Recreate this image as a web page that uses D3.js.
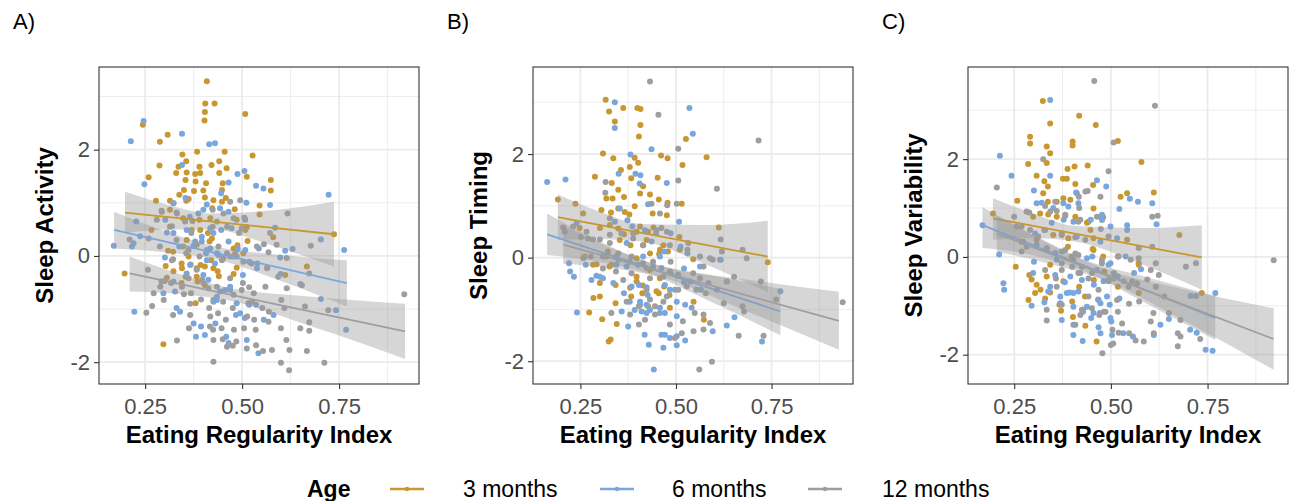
<!DOCTYPE html>
<html>
<head>
<meta charset="utf-8">
<script src="https://cdn.jsdelivr.net/npm/d3@7"></script>
<style>
  body { margin: 0; background: #fff; }
  text { font-family: "Liberation Sans", Arial, sans-serif; }
</style>
</head>
<body>
<div id="chart"></div>
<script>
// age groups shown in the legend
const ageGroups = ['3 months', '6 months', '12 months'];

// axis ticks
const xTicks = [0.25, 0.5, 0.75];
const xMinorTicks = [0.125, 0.375, 0.625, 0.875];
const yTicks = [-2, 0, 2];
const yMinorTicks = [-3, -1, 1, 3];

// visible axis ranges
const activityXRange = [0.131, 0.956];
const activityYRange = [-2.41, 3.556];
const timingXRange = [0.126, 0.963];
const timingYRange = [-2.44, 3.68];
const variabilityXRange = [0.1305, 0.958];
const variabilityYRange = [-2.6, 3.885];

// ---- A) Sleep Activity: [eating regularity index, score]
const activity3 = [[.409,3.29],[.405,2.87],[.429,2.87],[.404,2.71],[.403,2.55],[.508,2.67],[.244,2.47],[.308,2.28],[.288,2.15],[.346,1.91],[.384,1.96],[.455,1.96],[.527,1.89],[.287,1.70],[.390,1.68],[.336,1.68],[.421,1.71],[.441,1.78],[.356,1.78],[.259,1.48],[.330,1.56],[.357,1.57],[.379,1.54],[.392,1.56],[.441,1.56],[.460,1.65],[.512,1.49],[.574,1.43],[.380,1.40],[.407,1.37],[.450,1.37],[.354,1.43],[.350,1.24],[.376,1.22],[.400,1.23],[.448,1.24],[.574,1.23],[.278,1.04],[.314,1.04],[.338,1.15],[.356,1.04],[.404,1.10],[.426,1.05],[.448,1.02],[.458,1.09],[.545,.95],[.323,.99],[.362,1.07],[.423,.90],[.481,.88],[.293,.83],[.545,.78],[.348,.71],[.390,.68],[.418,.71],[.486,.68],[.512,.54],[.508,.49],[.580,.35],[.514,.28],[.266,.49],[.309,.10],[.322,.08],[.357,.30],[.383,.21],[.416,.27],[.392,.49],[.412,.43],[.344,-.14],[.367,-.16],[.393,-.17],[.404,-.20],[.426,-.23],[.420,-.08],[.437,-.29],[.440,-.38],[.303,-.19],[.323,-.29],[.383,-.23],[.667,-.20],[.197,-.33],[.385,-.48],[.404,-.55],[.478,-.34],[.486,-.22],[.306,-.41],[.426,-.83],[.344,-.51],[.380,-.89],[.516,-.89],[.611,-.36],[.297,-1.66],[.362,-.01],[.348,.18],[.314,.55],[.503,.05],[.737,.41],[.488,.20],
  [.314,.87],[.370,.49],[.422,.33],[.478,.14],[.345,-.23],[.383,-.39]];
const activity6 = [[.213,2.16],[.246,2.54],[.345,2.30],[.415,2.10],[.430,2.12],[.248,1.35],[.345,1.71],[.488,1.54],[.506,1.60],[.465,1.38],[.536,1.32],[.555,1.27],[.446,1.18],[.511,1.00],[.572,.96],[.723,1.15],[.409,.97],[.400,.87],[.365,.74],[.331,.82],[.323,.99],[.354,1.09],[.227,.65],[.169,.19],[.216,.18],[.237,.37],[.306,.44],[.357,.49],[.396,.36],[.396,.27],[.426,.43],[.446,.49],[.473,.52],[.508,.68],[.508,.11],[.489,.13],[.465,.27],[.543,.14],[.585,.53],[.611,.10],[.598,-.03],[.630,.13],[.763,.11],[.703,.31],[.301,-.03],[.323,.43],[.338,.18],[.375,.19],[.407,.05],[.418,.14],[.439,.02],[.478,-.01],[.502,-.36],[.518,-.11],[.539,-.14],[.565,-.22],[.599,-.34],[.650,-.53],[.357,-.33],[.400,-.36],[.413,-.45],[.435,-.83],[.426,-.86],[.443,-.67],[.327,-.67],[.297,-.70],[.331,-.98],[.340,-1.05],[.222,-1.05],[.469,-.64],[.486,-.89],[.495,-1.08],[.518,-.92],[.536,-.92],[.581,-1.11],[.703,-.81],[.742,-1.02],[.768,-1.39],[.375,-1.27],[.394,-1.33],[.381,-1.52],[.404,-1.49],[.431,-1.27],[.459,-1.52],[.465,-1.64],[.507,-1.17],[.512,-1.58],[.542,-1.83],[.556,-1.20],[.484,-1.11],[.435,.05],
  [.387,.80],[.443,.90],[.465,.83],[.302,.68],[.418,.52],[.220,.24],[.379,.27],[.409,.11],[.366,-.17],[.409,-.08],[.430,-.14],[.538,-.23],[.323,-.48],[.435,-.77],[.456,-.64],[.469,-.58]];
const activity12 = [[.617,.80],[.495,1.05],[.424,.87],[.469,1.02],[.506,.72],[.210,.31],[.280,.68],[.292,.85],[.319,.56],[.331,.30],[.372,.66],[.424,.55],[.452,.80],[.478,.71],[.492,.43],[.369,.43],[.288,.18],[.356,.05],[.322,-.06],[.390,-.01],[.452,-.04],[.482,.04],[.524,-.14],[.556,.22],[.568,.07],[.589,.21],[.615,-.04],[.677,.19],[.673,-.33],[.257,-.26],[.292,-.48],[.317,-.51],[.354,-.39],[.345,-.58],[.368,-.70],[.397,-.45],[.413,-.61],[.435,-.58],[.469,-.42],[.502,-.51],[.518,-.59],[.530,-.70],[.560,-.58],[.615,-.61],[.654,-.55],[.593,-.39],[.272,-.70],[.298,-.83],[.350,-.72],[.366,-.90],[.394,-.82],[.415,-.98],[.451,-.86],[.476,-.98],[.526,-.86],[.552,-.98],[.601,-.83],[.609,-.98],[.662,-.95],[.268,-.94],[.253,-1.07],[.322,-1.11],[.366,-1.11],[.418,-1.14],[.438,-1.08],[.458,-1.20],[.513,-1.14],[.531,-1.20],[.569,-1.05],[.722,-1.02],[.918,-.72],[.363,-1.36],[.417,-1.33],[.425,-1.39],[.447,-1.36],[.479,-1.39],[.505,-1.36],[.535,-1.39],[.568,-1.24],[.600,-1.36],[.673,-1.25],[.673,-1.41],[.650,-1.36],[.332,-1.59],[.426,-1.58],[.450,-1.57],[.461,-1.71],[.476,-1.69],[.485,-1.61],[.512,-1.74],[.536,-1.68],[.554,-1.79],[.577,-1.77],[.614,-1.58],[.622,-1.77],[.667,-1.79],[.426,-1.99],[.600,-2.01],[.621,-2.15],[.712,-2.01],[.300,-.47],[.289,-.58],
  [.332,.80],[.353,.65],[.435,.65],[.461,.55],[.499,.52],[.572,.43],[.259,.33],[.362,.11],[.439,.18],[.461,.05],[.538,.18],[.319,-.08],[.383,-.26],[.448,-.08],[.469,-.01],[.486,-.01],[.503,-.11],[.564,-.23],[.362,-.42],[.400,-.51],[.478,-.73],[.499,-.64]];

// fitted lines [[x0,y0],[x1,y1]] and confidence bands [x, lower, upper]
const activityLine3 = [[.198,.816],[.737,.408]];
const activityBand3 = [[.198,.43,1.21],[.31,.50,.96],[.42,.50,.80],[.58,.19,.86],[.737,-.20,1.02]];
const activityLine6 = [[.170,.49],[.770,-.51]];
const activityBand6 = [[.170,.14,.83],[.30,.07,.47],[.43,-.06,.18],[.60,-.47,.02],[.770,-.95,-.08]];
const activityLine12 = [[.210,-.33],[.920,-1.42]];
const activityBand12 = [[.210,-.67,-.01],[.33,-.71,-.32],[.46,-.83,-.59],[.68,-1.33,-.77],[.920,-1.94,-.90]];

// ---- B) Sleep Timing
const timing3 = [[.316,3.05],[.325,2.82],[.362,2.89],[.340,2.63],[.399,2.89],[.407,2.87],[.407,2.56],[.403,2.34],[.526,2.29],[.309,2.01],[.336,1.92],[.392,1.93],[.461,1.97],[.478,1.92],[.580,1.94],[.517,1.79],[.379,1.75],[.401,1.83],[.288,1.56],[.356,1.69],[.383,1.53],[.414,1.38],[.452,1.54],[.332,1.44],[.349,1.31],[.334,1.14],[.318,1.14],[.364,1.17],[.392,.99],[.406,1.24],[.432,1.22],[.455,1.12],[.478,1.06],[.515,1.04],[.191,1.12],[.237,1.04],[.257,.85],[.305,.92],[.330,.87],[.349,.95],[.378,.83],[.439,.85],[.476,.82],[.441,.58],[.397,.50],[.349,.56],[.327,.63],[.364,.45],[.423,.34],[.467,.24],[.509,.40],[.612,.58],[.381,.24],[.322,.12],[.344,.02],[.292,-.13],[.397,-.01],[.432,.08],[.456,.07],[.479,.12],[.545,-.03],[.740,-.09],[.326,-.17],[.397,-.37],[.458,-.40],[.432,-.24],[.301,-.49],[.342,-.53],[.380,-.58],[.413,-.54],[.469,-.56],[.483,-.72],[.383,-.75],[.301,-.75],[.284,-.78],[.342,-.88],[.412,-.69],[.455,-.69],[.546,-.85],[.273,-1.06],[.307,-1.19],[.345,-1.28],[.573,-1.20],[.324,-1.62],[.329,-1.58],[.484,-.97],[.427,-.94],
  [.366,.88],[.301,.57],[.248,.57],[.406,.60],[.427,.50],[.353,.34],[.414,.24],[.458,.15],[.510,.15],[.261,.02],[.283,-.14],[.331,-.14],[.440,-.17],[.397,-.46],[.449,-.65]];
const timing6 = [[.163,1.46],[.211,1.51],[.340,3.00],[.340,2.50],[.535,2.89],[.544,2.39],[.436,2.09],[.381,1.99],[.350,1.62],[.394,1.62],[.407,1.59],[.476,1.44],[.405,1.43],[.427,1.03],[.508,.69],[.486,.47],[.386,.60],[.373,.72],[.419,.53],[.448,.47],[.470,.12],[.458,.02],[.512,.21],[.530,.08],[.240,.66],[.220,-.11],[.223,-.27],[.233,-.37],[.264,-.14],[.344,-.14],[.292,-.35],[.309,-.40],[.371,-.17],[.414,.02],[.440,-.17],[.486,-.30],[.521,-.21],[.563,-.17],[.617,-.04],[.336,-.49],[.364,-.69],[.403,-.53],[.423,-.57],[.471,-.53],[.484,-.62],[.521,-.48],[.565,-.62],[.379,-.85],[.392,-1.01],[.406,-.91],[.423,-1.07],[.432,-1.01],[.458,-.97],[.471,-1.07],[.502,-.85],[.502,-1.13],[.541,-.97],[.241,-1.06],[.358,-1.04],[.375,-1.33],[.418,-1.49],[.429,-1.68],[.462,-1.49],[.471,-1.49],[.467,-1.74],[.502,-1.69],[.524,-1.60],[.502,-1.52],[.596,-1.42],[.633,-1.31],[.653,-1.15],[.725,-1.62],[.773,-.65],[.442,-2.16],[.484,-1.55],[.426,-.72],[.524,-.91],
  [.353,.95],[.340,.69],[.371,.28],[.436,.31],[.615,-.04],[.349,-.04],[.401,-.14],[.462,-.20],[.506,-.33],[.537,-.46],[.279,-.43],[.301,-.37],[.384,-.56],[.497,-.62],[.406,-.85],[.423,-.91],[.458,-1.07],[.410,-1.04]];
const timing12 = [[.432,3.40],[.454,2.76],[.716,2.26],[.506,2.10],[.506,1.49],[.607,1.33],[.316,1.46],[.315,1.25],[.436,1.04],[.458,.85],[.477,1.01],[.502,1.04],[.205,.58],[.209,.50],[.251,.40],[.266,.50],[.283,.35],[.301,.35],[.327,.28],[.357,.47],[.388,.47],[.414,.24],[.449,.53],[.476,.50],[.530,.15],[.617,.35],[.674,.15],[.685,-.01],[.258,-.01],[.277,.02],[.318,.02],[.349,.08],[.384,.02],[.414,-.11],[.440,-.08],[.486,-.08],[.545,-.30],[.572,-.17],[.596,-.04],[.652,-.37],[.309,-.21],[.343,-.27],[.384,-.30],[.432,-.40],[.467,-.37],[.505,-.35],[.528,-.56],[.553,-.62],[.578,-.69],[.607,-.62],[.625,-.88],[.674,-.94],[.678,-1.04],[.722,-.46],[.762,-.81],[.936,-.86],[.371,-.85],[.403,-.94],[.432,-.81],[.467,-.85],[.506,-.62],[.380,-1.10],[.419,-1.20],[.445,-1.10],[.484,-1.29],[.518,-1.23],[.549,-1.07],[.572,-1.10],[.546,-1.42],[.572,-1.39],[.589,-1.26],[.664,-1.51],[.729,-1.51],[.497,-1.55],[.515,-1.46],[.594,-2.01],[.561,-2.16],[.403,-1.29],[.331,-1.07],
  [.327,.76],[.270,.37],[.231,.60],[.462,.57],[.327,.44],[.388,.37],[.484,.24],[.532,.28],[.563,.02],[.589,-.01],[.620,.12],[.309,.02],[.379,-.08],[.423,-.20],[.484,-.27],[.563,-.40],[.585,-.49],[.633,-.46],[.362,-.43],[.423,-.62],[.476,-.75],[.445,-.94]];

const timingLine3 = [[.191,.78],[.740,.02]];
const timingBand3 = [[.191,.34,1.22],[.30,.36,.89],[.41,.31,.65],[.58,-.14,.63],[.740,-.67,.71]];
const timingLine6 = [[.163,.45],[.773,-1.04]];
const timingBand6 = [[.163,.05,.85],[.29,-.07,.35],[.42,-.29,-.07],[.60,-.88,-.35],[.773,-1.50,-.60]];
const timingLine12 = [[.205,.25],[.926,-1.22]];
const timingBand12 = [[.205,-.12,.62],[.33,-.20,.19],[.46,-.38,-.16],[.68,-1.02,-.42],[.926,-1.78,-.66]];

// ---- C) Sleep Variability
const variability3 = [[.324,3.19],[.343,2.73],[.418,2.89],[.461,2.70],[.518,2.37],[.291,2.46],[.291,2.32],[.334,2.26],[.343,2.12],[.401,2.36],[.401,2.28],[.286,1.90],[.334,1.92],[.388,1.80],[.406,1.85],[.440,1.87],[.579,1.94],[.308,1.66],[.328,1.55],[.337,1.44],[.376,1.60],[.386,1.60],[.408,1.49],[.454,1.47],[.542,1.30],[.525,1.23],[.611,1.32],[.258,1.15],[.337,1.13],[.360,1.13],[.377,1.20],[.395,1.17],[.455,.99],[.480,.81],[.195,.89],[.299,.82],[.338,.87],[.382,.84],[.408,.82],[.438,.70],[.477,.76],[.328,.55],[.373,.45],[.408,.40],[.447,.55],[.542,.35],[.677,.45],[.308,.35],[.269,.31],[.389,.21],[.453,.16],[.480,.01],[.518,.01],[.254,-.20],[.289,-.37],[.295,-.46],[.343,-.16],[.334,-.40],[.377,-.50],[.418,-.61],[.456,-.47],[.483,-.30],[.508,-.42],[.518,-.61],[.572,-.13],[.308,-.57],[.318,-.67],[.304,-.74],[.287,-.88],[.330,-.85],[.343,-.73],[.367,-.98],[.400,-.91],[.433,-.81],[.467,-.87],[.735,-.74],[.371,-1.10],[.428,-1.08],[.402,-1.23],[.434,-1.41],[.463,-1.73],[.572,-.74],
  [.325,1.30],[.317,.89],[.360,.82],[.442,.72],[.351,.45],[.390,.38],[.455,.38],[.399,.01],[.455,.14],[.572,-.16]];
const variability6 = [[.343,3.21],[.213,2.07],[.243,1.66],[.343,1.66],[.464,1.57],[.488,1.44],[.301,1.36],[.351,1.00],[.321,1.11],[.390,1.03],[.410,1.32],[.416,1.10],[.522,.98],[.549,1.19],[.570,1.13],[.607,1.10],[.618,.67],[.542,.65],[.542,.55],[.499,.62],[.477,.86],[.448,.76],[.378,.76],[.347,.70],[.304,.48],[.168,.65],[.211,.05],[.222,-.54],[.224,-.67],[.301,-.10],[.360,-.06],[.403,-.06],[.452,.01],[.494,-.16],[.538,.01],[.560,-.33],[.578,-.25],[.343,-.61],[.381,-.52],[.393,-.73],[.425,-.47],[.456,-.57],[.494,-.50],[.518,-.40],[.295,-1.00],[.328,-.93],[.369,-.81],[.403,-.74],[.438,-1.02],[.473,-.95],[.497,-.98],[.522,-.85],[.373,-1.29],[.403,-1.39],[.428,-1.12],[.449,-1.25],[.471,-1.15],[.468,-1.44],[.473,-1.56],[.501,-1.32],[.403,-1.60],[.427,-1.72],[.503,-1.60],[.532,-1.56],[.557,-1.63],[.611,-1.60],[.628,-1.39],[.650,-1.27],[.705,-1.49],[.722,-1.55],[.745,-1.90],[.763,-1.92],[.770,-.74],[.706,-.80],
  [.377,1.10],[.412,1.30],[.308,1.10],[.403,.72],[.477,.76],[.330,.55],[.412,.42],[.473,.31],[.516,.38],[.308,.25],[.356,.08],[.438,-.03],[.499,-.13],[.299,-.33],[.356,-.37],[.395,-.40],[.464,-.27],[.481,-.50],[.338,-.71],[.386,-.74],[.416,-.71],[.468,-.88],[.490,-.81],[.369,-.95],[.403,-1.02],[.455,-1.15],[.499,-1.25]];
const variability12 = [[.457,3.60],[.614,3.09],[.507,2.34],[.325,2.00],[.205,1.42],[.494,1.75],[.440,1.35],[.473,1.23],[.417,1.23],[.607,.82],[.621,.84],[.250,.82],[.289,.91],[.330,1.04],[.360,.94],[.418,1.00],[.416,.72],[.474,.57],[.269,.62],[.312,.42],[.269,.11],[.282,.21],[.334,.18],[.373,.11],[.408,.07],[.572,.18],[.607,.21],[.373,-.13],[.400,-.20],[.425,-.20],[.451,-.33],[.477,-.13],[.508,-.33],[.572,-.03],[.616,-.13],[.624,-.37],[.694,-.20],[.720,-.13],[.921,-.07],[.358,-.44],[.416,-.33],[.468,-.67],[.494,-.47],[.546,-.61],[.555,-.50],[.594,-.46],[.616,-.61],[.638,-.81],[.720,-.80],[.334,-1.08],[.373,-.98],[.421,-1.19],[.451,-1.05],[.482,-1.12],[.518,-1.12],[.547,-.96],[.573,-.91],[.610,-1.15],[.650,-1.15],[.680,-1.29],[.334,-1.30],[.408,-1.39],[.470,-1.19],[.504,-1.49],[.520,-1.55],[.547,-1.56],[.564,-1.71],[.585,-1.73],[.611,-1.56],[.673,-1.56],[.680,-1.63],[.673,-1.83],[.731,-1.68],[.500,-1.80],[.478,-1.97],[.506,-1.77],[.603,-1.32],
  [.356,1.13],[.434,1.34],[.282,.93],[.343,.93],[.382,.86],[.421,.76],[.464,.82],[.256,.62],[.291,.55],[.373,.48],[.434,.35],[.494,.42],[.273,.31],[.334,.14],[.382,.14],[.416,.04],[.477,-.06],[.520,.01],[.551,-.06],[.603,-.27],[.330,-.27],[.373,-.27],[.421,-.33],[.442,-.44],[.507,-.44],[.533,-.50],[.568,-.54],[.360,-.61],[.442,-.81],[.516,-.88],[.425,-1.08],[.486,-1.12],[.529,-1.36]];

const variabilityLine3 = [[.195,.79],[.735,-.01]];
const variabilityBand3 = [[.195,.35,1.20],[.30,.38,.89],[.41,.31,.63],[.58,-.15,.59],[.735,-.67,.65]];
const variabilityLine6 = [[.168,.65],[.770,-1.25]];
const variabilityBand6 = [[.168,.18,1.02],[.29,.05,.48],[.42,-.26,-.03],[.60,-.99,-.43],[.770,-1.70,-.80]];
const variabilityLine12 = [[.205,.48],[.921,-1.68]];
const variabilityBand12 = [[.205,.11,.85],[.33,-.12,.33],[.47,-.44,-.20],[.70,-1.35,-.68],[.921,-2.31,-1.05]];

// ---- layout / style
const width = 1291, height = 501;
const colors = ['#C9972F', '#7AA6DE', '#9E9E9E'];
const panelTop = 67, panelW = 320, panelH = 317;

const panels = [
  { tag: 'A)', title: 'Sleep Activity', left: 99, xRange: activityXRange, yRange: activityYRange,
    points: [activity3, activity6, activity12],
    lines: [activityLine3, activityLine6, activityLine12],
    bands: [activityBand3, activityBand6, activityBand12] },
  { tag: 'B)', title: 'Sleep Timing', left: 533, xRange: timingXRange, yRange: timingYRange,
    points: [timing3, timing6, timing12],
    lines: [timingLine3, timingLine6, timingLine12],
    bands: [timingBand3, timingBand6, timingBand12] },
  { tag: 'C)', title: 'Sleep Variability', left: 968, xRange: variabilityXRange, yRange: variabilityYRange,
    points: [variability3, variability6, variability12],
    lines: [variabilityLine3, variabilityLine6, variabilityLine12],
    bands: [variabilityBand3, variabilityBand6, variabilityBand12] }
];

const svg = d3.select('#chart')
  .append('svg')
  .attr('width', width)
  .attr('height', height);

svg.append('rect').attr('width', width).attr('height', height).attr('fill', '#fff');

panels.forEach((p) => {
  const x = d3.scaleLinear().domain(p.xRange).range([0, panelW]);
  const y = d3.scaleLinear().domain(p.yRange).range([panelH, 0]);
  const inX = (v) => v >= p.xRange[0] && v <= p.xRange[1];
  const inY = (v) => v >= p.yRange[0] && v <= p.yRange[1];

  svg.append('text')
    .attr('x', p.left - 86)
    .attr('y', 29)
    .attr('font-size', 22)
    .attr('fill', '#000')
    .text(p.tag);

  const g = svg.append('g').attr('transform', `translate(${p.left},${panelTop})`);

  // grid
  g.append('g').selectAll('line')
    .data(xMinorTicks.filter(inX)).enter().append('line')
    .attr('x1', (d) => x(d)).attr('x2', (d) => x(d))
    .attr('y1', 0).attr('y2', panelH)
    .attr('stroke', '#EBEBEB').attr('stroke-width', 0.9);
  g.append('g').selectAll('line')
    .data(yMinorTicks.filter(inY)).enter().append('line')
    .attr('y1', (d) => y(d)).attr('y2', (d) => y(d))
    .attr('x1', 0).attr('x2', panelW)
    .attr('stroke', '#EBEBEB').attr('stroke-width', 0.9);
  g.append('g').selectAll('line')
    .data(xTicks).enter().append('line')
    .attr('x1', (d) => x(d)).attr('x2', (d) => x(d))
    .attr('y1', 0).attr('y2', panelH)
    .attr('stroke', '#EBEBEB').attr('stroke-width', 1.8);
  g.append('g').selectAll('line')
    .data(yTicks).enter().append('line')
    .attr('y1', (d) => y(d)).attr('y2', (d) => y(d))
    .attr('x1', 0).attr('x2', panelW)
    .attr('stroke', '#EBEBEB').attr('stroke-width', 1.8);

  // points
  p.points.forEach((pts, i) => {
    g.append('g').selectAll('circle')
      .data(pts).enter().append('circle')
      .attr('cx', (d) => x(d[0]))
      .attr('cy', (d) => y(d[1]))
      .attr('r', 3)
      .attr('fill', colors[i]);
  });

  // smooth: band then line per group
  const area = d3.area()
    .x((d) => x(d[0]))
    .y0((d) => y(d[1]))
    .y1((d) => y(d[2]))
    .curve(d3.curveMonotoneX);
  const line = d3.line().x((d) => x(d[0])).y((d) => y(d[1]));

  p.bands.forEach((band, i) => {
    g.append('path')
      .datum(band)
      .attr('d', area)
      .attr('fill', '#999999')
      .attr('fill-opacity', 0.4);
    g.append('path')
      .datum(p.lines[i])
      .attr('d', line)
      .attr('fill', 'none')
      .attr('stroke', colors[i])
      .attr('stroke-width', 1.8);
  });

  // border
  g.append('rect')
    .attr('width', panelW).attr('height', panelH)
    .attr('fill', 'none').attr('stroke', '#333333').attr('stroke-width', 1.1);

  // axes
  const xAxis = g.append('g')
    .attr('transform', `translate(0,${panelH})`)
    .call(d3.axisBottom(x).tickValues(xTicks).tickFormat(d3.format('.2f')).tickSize(5).tickPadding(9));
  const yAxis = g.append('g')
    .call(d3.axisLeft(y).tickValues(yTicks).tickFormat((d) => String(d)).tickSize(5).tickPadding(4));
  [xAxis, yAxis].forEach((a) => {
    a.select('.domain').remove();
    a.selectAll('.tick line').attr('stroke', '#333333').attr('stroke-width', 1.1);
    a.selectAll('.tick text')
      .attr('fill', '#4D4D4D')
      .attr('font-size', 22)
      .attr('font-family', '"Liberation Sans", Arial, sans-serif');
  });

  // axis titles
  g.append('text')
    .attr('x', panelW / 2)
    .attr('y', 443 - panelTop)
    .attr('text-anchor', 'middle')
    .attr('font-size', 24)
    .attr('font-weight', 'bold')
    .attr('fill', '#000')
    .text('Eating Regularity Index');
  g.append('text')
    .attr('transform', `translate(-46.5,${panelH / 2}) rotate(-90)`)
    .attr('text-anchor', 'middle')
    .attr('font-size', 24)
    .attr('font-weight', 'bold')
    .attr('fill', '#000')
    .text(p.title);
});

// legend
const legend = svg.append('g').attr('transform', 'translate(0,489)');
legend.append('text')
  .attr('x', 307).attr('y', 8)
  .attr('font-size', 23).attr('font-weight', 'bold')
  .text('Age');
const keyX = [390, 600, 808];
const labelX = [463, 672, 882];
ageGroups.forEach((label, i) => {
  legend.append('line')
    .attr('x1', keyX[i]).attr('x2', keyX[i] + 34)
    .attr('y1', 0).attr('y2', 0)
    .attr('stroke', colors[i]).attr('stroke-width', 2.5);
  legend.append('circle')
    .attr('cx', keyX[i] + 17).attr('cy', 0).attr('r', 2.2)
    .attr('fill', colors[i]);
  legend.append('text')
    .attr('x', labelX[i]).attr('y', 8)
    .attr('font-size', 23)
    .text(label);
});
</script>
</body>
</html>
